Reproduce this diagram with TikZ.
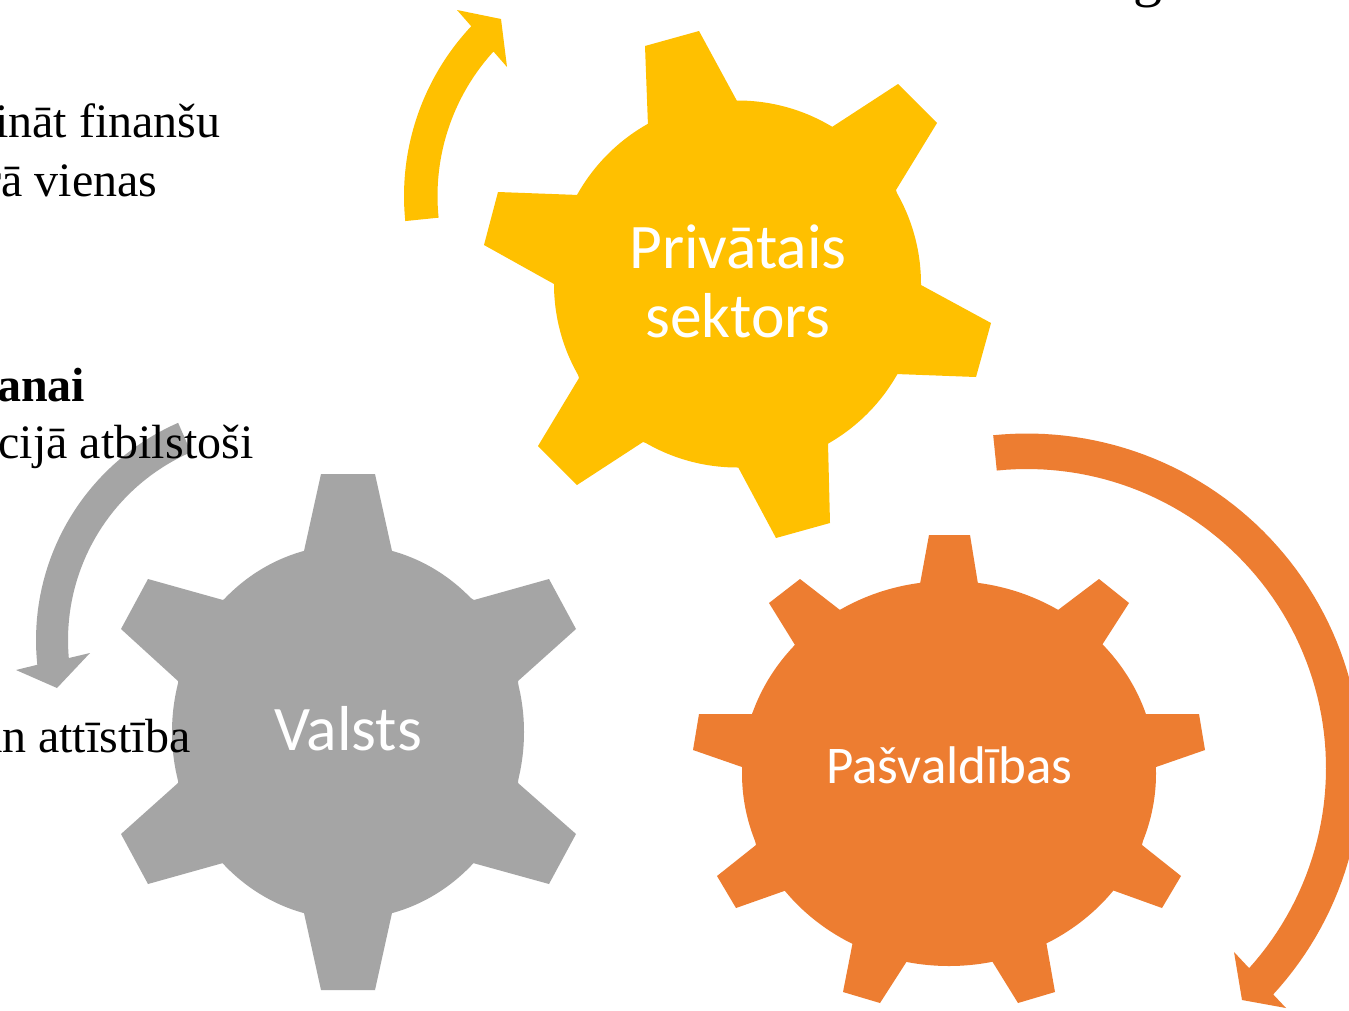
\documentclass[tikz,border=0pt]{standalone}
\usepackage{fontspec}
\setmainfont{Liberation Serif}
\newfontfamily\labelfont{Carlito}
\definecolor{gearyellow}{HTML}{FFC000}
\definecolor{gearorange}{HTML}{ED7D31}
\definecolor{geargrey}{HTML}{A5A5A5}
\tikzset{
  bodytext/.style={anchor=base east,inner sep=0pt,text=black,font=\fontsize{48}{58}\selectfont},
  gearlabel/.style={anchor=base,inner sep=0pt,text=white,font=\labelfont\fontsize{#1}{#1}\selectfont},
}
\begin{document}
\begin{tikzpicture}[x=1pt,y=-1pt]
\useasboundingbox (0,0) rectangle (1349,1010);
\clip (0,0) rectangle (1349,1010);
\fill[white] (0,0) rectangle (1349,1010);
% yellow gear
\fill[gearyellow] (737.5,284) circle [radius=183.5pt];
\fill[gearyellow] (645,46)--(699,31)--(737,101)--(832,127)--(898,84)--(937,123)--(896,190)--(921,285)--(991,323)--(976,377)--(896,374)--(828,443)--(830,523)--(776,538)--(738,467)--(643,442)--(577,485)--(538,446)--(579,378)--(554,284)--(484,245)--(498,192)--(579,195)--(648,126)--cycle;
% grey gear
\fill[geargrey] (348,732) ellipse [x radius=176pt,y radius=187pt];
\fill[geargrey] (304,551)--(321,474)--(375,474)--(392,551)--(474,600)--(549,579)--(576,629)--(518,681)--(518,783)--(576,834)--(549,884)--(473,863)--(392,913)--(375,990)--(321,990)--(304,913)--(223,863)--(148,884)--(121,834)--(178,783)--(178,681)--(121,629)--(148,579)--(223,600)--cycle;
% orange gear
\fill[gearorange] (949,773.5) ellipse [x radius=207pt,y radius=192.5pt];
\fill[gearorange] (920,584)--(929,535)--(970,535)--(978,584)--(1058,610)--(1099,579)--(1129,603)--(1102,645)--(1145,714)--(1199,714)--(1205,750)--(1156,767)--(1142,845)--(1181,876)--(1162,908)--(1112,890)--(1046,941)--(1055,992)--(1018,1003)--(992,961)--(907,961)--(880,1003)--(843,992)--(853,941)--(787,890)--(736,908)--(717,876)--(756,845)--(742,767)--(693,750)--(699,714)--(752,714)--(795,645)--(769,603)--(800,579)--(840,610)--cycle;
% yellow arrow
\fill[gearyellow] plot[domain=174.2:223.2,samples=40] ({652+248*cos(\x)},{196+248*sin(\x)})
  -- (457,10) -- (501,19) -- (507,67) -- (493,51)
  -- plot[domain=222.4:174.2,samples=40] ({652+214.5*cos(\x)},{196+214.5*sin(\x)}) -- cycle;
% grey arrow
\fill[geargrey] plot[domain=246.4:174,samples=40] ({273+237*cos(\x)},{640+237*sin(\x)})
  -- (16,670) -- (57,688) -- (90,653) -- (69,658)
  -- plot[domain=175:246.4,samples=40] ({273+205*cos(\x)},{640+205*sin(\x)}) -- cycle;
% orange arrow
\fill[gearorange] plot[domain=-95.8:42.6,samples=80] ({1027+334.5*cos(\x)},{768+334.5*sin(\x)})
  -- (1286,1008) -- (1242,1000) -- (1234,952) -- (1249,968)
  -- plot[domain=42:-95.8,samples=80] ({1027+299*cos(\x)},{768+299*sin(\x)}) -- cycle;
% partly hidden body text
\node[bodytext] (t1) at (220.5,137) {ināt finanšu};
\node[bodytext] (t2) at (157.5,196) {rā vienas};
\node[bodytext,font=\fontsize{48}{58}\selectfont\bfseries] (t3) at (85.5,401) {anai};
\node[bodytext] (t4) at (253.5,458) {cijā atbilstoši};
\node[bodytext] (t5) at (190.5,752) {an attīstība};
\node[bodytext,font=\fontsize{58}{58}\selectfont] (t6) at (1163,-5) {g};
% gear labels
\node[gearlabel=63.5] (l1) at (738,268) {Privātais};
\node[gearlabel=63.5] (l2) at (738,337) {sektors};
\node[gearlabel=63.5] (l3) at (348,750) {Valsts};
\node[gearlabel=53] (l4) at (949.5,783) {Pašvaldības};
\end{tikzpicture}
\end{document}
